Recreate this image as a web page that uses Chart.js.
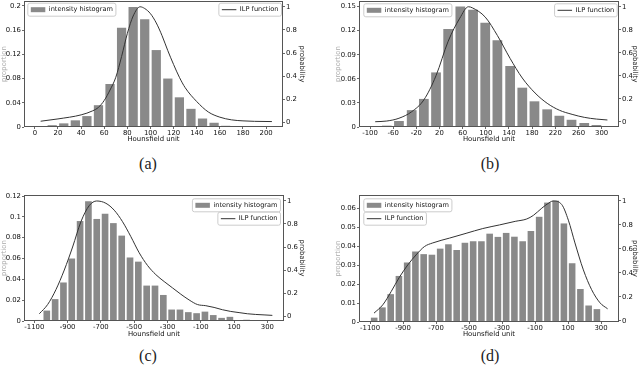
<!DOCTYPE html>
<html><head><meta charset="utf-8">
<script src="https://cdn.jsdelivr.net/npm/chart.js@4.4.0/dist/chart.umd.min.js"></script>
<style>
html,body{margin:0;padding:0;background:#fff;}
#wrap{position:relative;width:640px;height:390px;overflow:hidden;background:#fff;}
.panel{position:absolute;width:320px;height:150px;}
.cap{position:absolute;font-family:'Liberation Serif','Times New Roman','DejaVu Serif',serif;font-size:16px;color:#222;transform:translate(-50%,-50%);white-space:nowrap;}
</style></head><body>
<div id="wrap">
  <div class="panel" style="left:0;top:0"><canvas id="ca" width="320" height="150"></canvas></div>
  <div class="panel" style="left:320px;top:0"><canvas id="cb" width="320" height="150"></canvas></div>
  <div class="panel" style="left:0;top:190px"><canvas id="cc" width="320" height="150"></canvas></div>
  <div class="panel" style="left:320px;top:190px"><canvas id="cd" width="320" height="150"></canvas></div>
  <div class="cap" style="left:148px;top:164px">(a)</div>
  <div class="cap" style="left:490px;top:164px">(b)</div>
  <div class="cap" style="left:148px;top:356px">(c)</div>
  <div class="cap" style="left:490px;top:356px">(d)</div>
</div>
<script>
// ---------- data ----------
const probTicks = [0, 0.2, 0.4, 0.6, 0.8, 1];

// (a)
const aBinCenters = [5,15,25,35,45,55,65,75,85,95,105,115,125,135,145,155,165,175,185,195];
const aProportion = [0.0015,0.003,0.006,0.011,0.018,0.036,0.071,0.164,0.198,0.178,0.127,0.080,0.049,0.030,0.014,0.007,0.002,0.001,0.0006,0.0004];
const aCurveX = [5,20,40,50,55,60,65,70,75,80,85,91,95,100,105,110,115,120,125,130,140,150,160,170,180,190,205];
const aCurveP = [0.01,0.03,0.065,0.10,0.13,0.19,0.28,0.39,0.57,0.77,0.92,1.0,0.985,0.94,0.86,0.75,0.62,0.50,0.39,0.30,0.18,0.09,0.045,0.022,0.013,0.009,0.007];
const aXTicks = [0,20,40,60,80,100,120,140,160,180,200];
const aYTicks = [0,0.04,0.08,0.12,0.16,0.2];

// (b)
const bBinCenters = [-71,-50,-28,-7,14,35,56,78,99,120,142,163,184,206,227,248,270,291];
const bProportion = [0.0017,0.0075,0.021,0.035,0.068,0.122,0.150,0.146,0.130,0.108,0.076,0.049,0.032,0.022,0.014,0.009,0.005,0.0025];
const bCurveX = [-91,-71,-50,-28,-7,14,35,55,70,77,99,120,142,163,185,206,227,249,270,291,310];
const bCurveP = [0.0,0.006,0.03,0.087,0.19,0.40,0.70,0.90,1.0,0.99,0.91,0.75,0.55,0.38,0.25,0.16,0.10,0.064,0.038,0.023,0.015];
const bXTicks = [-100,-60,-20,20,60,100,140,180,220,260,300];
const bYTicks = [0,0.03,0.06,0.09,0.12,0.15];

// (c)
const cBinCenters = [-1075,-1025,-975,-925,-875,-825,-775,-725,-675,-625,-575,-525,-475,-425,-375,-325,-275,-225,-175,-125,-75,-25,25,75,125,175];
const cProportion = [0.001,0.010,0.021,0.037,0.060,0.096,0.115,0.098,0.103,0.094,0.082,0.061,0.057,0.034,0.034,0.025,0.011,0.011,0.0085,0.0075,0.009,0.0057,0.003,0.004,0.0005,0.0012];
const cCurveX = [-1070,-1020,-970,-920,-870,-820,-770,-725,-670,-620,-570,-520,-470,-420,-370,-320,-270,-220,-170,-120,-70,-20,30,80,130,180,230,280,330];
const cCurveP = [0.02,0.10,0.23,0.40,0.60,0.82,0.96,1.0,0.98,0.92,0.82,0.69,0.55,0.44,0.36,0.30,0.245,0.19,0.14,0.10,0.09,0.075,0.055,0.04,0.03,0.02,0.014,0.01,0.006];
const cXTicks = [-1100,-900,-700,-500,-300,-100,100,300];
const cYTicks = [0,0.02,0.04,0.06,0.08,0.1,0.12];

// (d)
const dBinCenters = [-1075,-1025,-975,-925,-875,-825,-775,-725,-675,-625,-575,-525,-475,-425,-375,-325,-275,-225,-175,-125,-75,-25,25,75,125,175,225,275];
const dProportion = [0.0023,0.0077,0.0147,0.0243,0.0314,0.0372,0.0358,0.0355,0.0387,0.041,0.038,0.0418,0.0426,0.0426,0.0466,0.0449,0.047,0.045,0.0426,0.048,0.0555,0.063,0.064,0.052,0.031,0.0174,0.0087,0.0068];
const dCurveX = [-1076,-1023,-972,-922,-871,-821,-770,-720,-619,-518,-417,-316,-220,-150,-110,-59,-9,10,62,102,142,193,243,294,340];
const dCurveP = [0.064,0.133,0.244,0.364,0.467,0.55,0.62,0.65,0.69,0.73,0.77,0.80,0.83,0.85,0.88,0.94,0.99,1.0,0.97,0.84,0.65,0.425,0.26,0.15,0.10];
const dXTicks = [-1100,-900,-700,-500,-300,-100,100,300];
const dYTicks = [0,0.01,0.02,0.03,0.04,0.05,0.06];

// ---------- drawing ----------
const FONT = {family: '"DejaVu Sans", sans-serif', size: 6.9};
const fmt = v => String(+Number(v).toFixed(4));

const framePlugin = {
  id: 'frame',
  afterDatasetsDraw(chart) {
    const a = chart.chartArea, ctx = chart.ctx;
    ctx.save();
    ctx.strokeStyle = '#555';
    ctx.lineWidth = 1;
    ctx.strokeRect(a.left + 0.5, a.top + 0.5, a.right - a.left - 1, a.bottom - a.top - 1);
    ctx.restore();
  }
};

function roundRect(ctx, x, y, w, h, r) {
  ctx.beginPath();
  ctx.moveTo(x + r, y);
  ctx.lineTo(x + w - r, y); ctx.quadraticCurveTo(x + w, y, x + w, y + r);
  ctx.lineTo(x + w, y + h - r); ctx.quadraticCurveTo(x + w, y + h, x + w - r, y + h);
  ctx.lineTo(x + r, y + h); ctx.quadraticCurveTo(x, y + h, x, y + h - r);
  ctx.lineTo(x, y + r); ctx.quadraticCurveTo(x, y, x + r, y);
  ctx.closePath();
}

const legendPlugin = {
  id: 'insideLegend',
  afterDraw(chart, args, opts) {
    const a = chart.chartArea, ctx = chart.ctx;
    ctx.save();
    ctx.font = '6.6px "DejaVu Sans", sans-serif';
    (opts.boxes || []).forEach(b => {
      const tw = ctx.measureText(b.text).width;
      const w = 3 + 14.5 + 3.5 + tw + 3, h = 13;
      const x = b.anchor === 'left' ? a.left + b.dx : a.right - b.dx - w;
      const y = a.top + b.dy;
      roundRect(ctx, x + 0.5, y + 0.5, w, h, 2);
      ctx.fillStyle = 'rgba(255,255,255,0.85)';
      ctx.fill();
      ctx.strokeStyle = '#cccccc';
      ctx.lineWidth = 1;
      ctx.stroke();
      const cy = y + h / 2 + 0.5;
      if (b.kind === 'bar') {
        ctx.fillStyle = '#8a8a8a';
        ctx.fillRect(x + 3.5, cy - 2.5, 14.5, 5);
      } else {
        ctx.strokeStyle = '#333';
        ctx.lineWidth = 1;
        ctx.beginPath(); ctx.moveTo(x + 3.5, cy); ctx.lineTo(x + 18, cy); ctx.stroke();
      }
      ctx.fillStyle = '#111';
      ctx.textBaseline = 'middle';
      ctx.textAlign = 'left';
      ctx.fillText(b.text, x + 21.5, cy);
    });
    ctx.restore();
  }
};

function makePanel(id, p) {
  const tickGrid = {display: true, drawOnChartArea: false, drawTicks: true, tickLength: 2, color: '#444', lineWidth: 0.8, offset: false};
  const ticksBase = {font: FONT, color: '#111', padding: 1, autoSkip: false, maxRotation: 0, callback: v => fmt(v)};
  new Chart(document.getElementById(id), {
    type: 'bar',
    data: {
      datasets: [
        {
          type: 'line',
          label: 'ILP function',
          data: p.curveX.map((x, i) => ({x: x, y: p.curveP[i]})),
          borderColor: '#333',
          borderWidth: 1,
          pointRadius: 0,
          fill: false,
          cubicInterpolationMode: 'monotone',
          yAxisID: 'yR',
          order: 1
        },
        {
          type: 'bar',
          label: 'intensity histogram',
          data: p.centers.map((x, i) => ({x: x, y: p.props[i]})),
          backgroundColor: '#898989',
          borderWidth: 0,
          barPercentage: 0.8,
          categoryPercentage: 1,
          yAxisID: 'yL',
          order: 2
        }
      ]
    },
    options: {
      responsive: false,
      animation: false,
      layout: {padding: {top: p.padTop, left: 0, right: 0, bottom: 0}},
      plugins: {
        legend: {display: false},
        tooltip: {enabled: false},
        insideLegend: {boxes: p.legend}
      },
      scales: {
        x: {
          type: 'linear', position: 'bottom', min: p.xMin, max: p.xMax, offset: false,
          afterBuildTicks: s => { s.ticks = p.xTicks.map(v => ({value: v})); },
          ticks: Object.assign({}, ticksBase, {padding: 0}),
          grid: tickGrid, border: {display: false},
          title: {display: true, text: 'Hounsfield unit', font: FONT, color: '#111', padding: {top: 0, bottom: p.xTitlePad}},
          afterFit: s => { s.height = p.bottomH; s.paddingLeft = 0; s.paddingRight = 0; }
        },
        yL: {
          type: 'linear', position: 'left', min: 0, max: p.yLMax,
          afterBuildTicks: s => { s.ticks = p.yTicks.map(v => ({value: v})); },
          ticks: ticksBase, grid: tickGrid, border: {display: false},
          title: {display: true, text: 'proportion', font: FONT, color: '#aaaaaa', padding: {top: p.lTitlePad, bottom: 0}},
          afterFit: s => { s.width = p.leftW; s.paddingTop = 0; s.paddingBottom = 0; }
        },
        yR: {
          type: 'linear', position: 'right', min: p.yRMin, max: p.yRMax,
          afterBuildTicks: s => { s.ticks = probTicks.map(v => ({value: v})); },
          ticks: ticksBase, grid: tickGrid, border: {display: false},
          title: {display: true, text: 'probability', font: FONT, color: '#111', padding: {top: p.rTitlePad, bottom: 0}},
          afterFit: s => { s.width = p.rightW; s.paddingTop = 0; s.paddingBottom = 0; }
        }
      }
    },
    plugins: [framePlugin, legendPlugin]
  });
}

makePanel('ca', {
  centers: aBinCenters, props: aProportion, curveX: aCurveX, curveP: aCurveP, xTicks: aXTicks, yTicks: aYTicks,
  xMin: -9.4, xMax: 214.6, yLMax: 0.208, yRMin: -0.04, yRMax: 1.05,
  leftW: 24, rightW: 37, bottomH: 23, padTop: 1, lTitlePad: 0.3, rTitlePad: 14.4, xTitlePad: 7,
  legend: [{anchor: 'left', dx: 3.3, dy: 1.7, kind: 'bar', text: 'intensity histogram'},
           {anchor: 'right', dx: 2, dy: 1.7, kind: 'line', text: 'ILP function'}]
});
makePanel('cb', {
  centers: bBinCenters, props: bProportion, curveX: bCurveX, curveP: bCurveP, xTicks: bXTicks, yTicks: bYTicks,
  xMin: -119, xMax: 330, yLMax: 0.157, yRMin: -0.046, yRMax: 1.05,
  leftW: 39, rightW: 21, bottomH: 23, padTop: 1, lTitlePad: 14, rTitlePad: 1.1, xTitlePad: 7,
  legend: [{anchor: 'left', dx: 4.3, dy: 2.3, kind: 'bar', text: 'intensity histogram'},
           {anchor: 'right', dx: 2.3, dy: 2.3, kind: 'line', text: 'ILP function'}]
});
makePanel('cc', {
  centers: cBinCenters, props: cProportion, curveX: cCurveX, curveP: cCurveP, xTicks: cXTicks, yTicks: cYTicks,
  xMin: -1162, xMax: 400, yLMax: 0.121, yRMin: -0.043, yRMax: 1.052,
  leftW: 24, rightW: 36, bottomH: 19, padTop: 5, lTitlePad: 0.3, rTitlePad: 14.4, xTitlePad: 2,
  legend: [{anchor: 'right', dx: 4, dy: 3.3, kind: 'bar', text: 'intensity histogram'},
           {anchor: 'right', dx: 4, dy: 16.7, kind: 'line', text: 'ILP function'}]
});
makePanel('cd', {
  centers: dBinCenters, props: dProportion, curveX: dCurveX, curveP: dCurveP, xTicks: dXTicks, yTicks: dYTicks,
  xMin: -1167, xMax: 409, yLMax: 0.067, yRMin: -0.01, yRMax: 1.05,
  leftW: 39, rightW: 21, bottomH: 18, padTop: 5, lTitlePad: 14, rTitlePad: 1.1, xTitlePad: 2,
  legend: [{anchor: 'left', dx: 4.3, dy: 3.3, kind: 'bar', text: 'intensity histogram'},
           {anchor: 'left', dx: 4.3, dy: 16.7, kind: 'line', text: 'ILP function'}]
});
</script>
</body></html>
